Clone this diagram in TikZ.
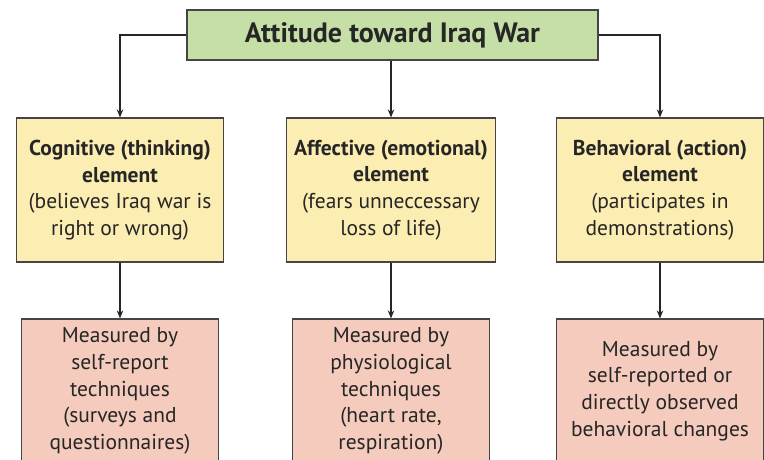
\documentclass[tikz,border=0pt]{standalone}
\usepackage{fontspec}
\setmainfont{PT Sans}
\usetikzlibrary{positioning,arrows.meta}
\definecolor{topgreen}{HTML}{C6DFA6}
\definecolor{midyellow}{HTML}{FCEDB2}
\definecolor{lowpink}{HTML}{F4CBBD}
\definecolor{boxline}{HTML}{454545}
\definecolor{ink}{HTML}{262626}

\begin{document}
\begin{tikzpicture}[x=1pt,y=-1pt,
  box/.style={draw=boxline,line width=1.2pt,align=center,text=ink,inner sep=4pt,
    font=\fontsize{21.5}{26.6}\selectfont},
  elem/.style={box,fill=midyellow,minimum width=207pt,minimum height=144pt},
  meas/.style={box,fill=lowpink,minimum width=197pt,minimum height=144pt},
  link/.style={-{Stealth[length=8pt,width=6.5pt]},draw=ink,line width=1.1pt}]
\clip (0,0) rectangle (764,460);
\node[box,fill=topgreen,minimum width=411pt,minimum height=50pt,
  font=\fontsize{28}{32}\selectfont\bfseries] (att) at (392.5,35) {Attitude toward Iraq War};
% middle row
\node[elem] (cog) at (120,190) {\textbf{Cognitive (thinking)}\\ \textbf{element}\\ (believes Iraq war is\\ right or wrong)};
\node[elem,minimum width=209pt] (aff) at (391,190) {\textbf{Affective (emotional)}\\ \textbf{element}\\ (fears unneccessary\\ loss of life)};
\node[elem] (beh) at (660,190) {\textbf{Behavioral (action)}\\ \textbf{element}\\ (participates in\\ demonstrations)};
% bottom row
\node[meas] (cogm) at (120,391) {Measured by\\ self-report\\ techniques\\ (surveys and\\ questionnaires)};
\node[meas] (affm) at (391,391) {Measured by\\ physiological\\ techniques\\ (heart rate,\\ respiration)};
\node[meas,minimum width=207pt] (behm) at (660,391) {Measured by\\ self-reported or\\ directly observed\\ behavioral changes};
\draw[link] (att.west) -| (cog.north);
\draw[link] (att.south -| aff.north) -- (aff.north);
\draw[link] (att.east) -| (beh.north);
\draw[link] (cog.south) -- (cogm.north);
\draw[link] (aff.south) -- (affm.north);
\draw[link] (beh.south) -- (behm.north);
\end{tikzpicture}
\end{document}
